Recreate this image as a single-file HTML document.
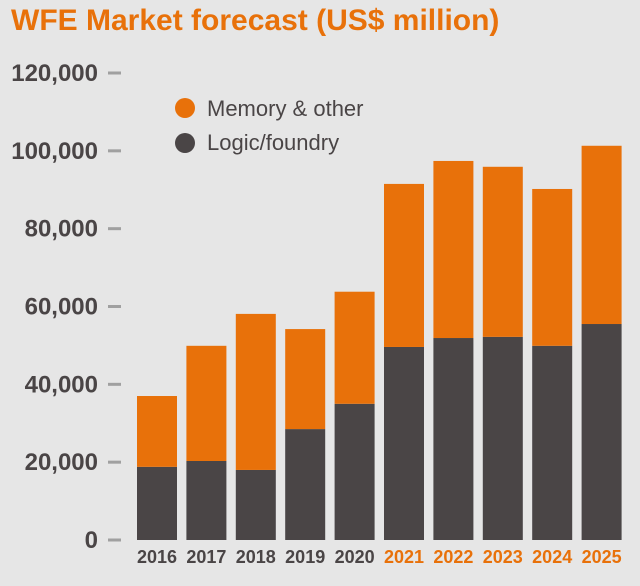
<!DOCTYPE html>
<html><head><meta charset="utf-8"><style>
body{margin:0;background:#e6e6e6;width:640px;height:581px;overflow:hidden;font-family:"Liberation Sans",Arial,sans-serif}
</style></head><body>
<svg width="640" height="581" xmlns="http://www.w3.org/2000/svg">
<rect width="640" height="581" fill="#e6e6e6"/>
<text x="11" y="30" font-size="30" font-weight="bold" fill="#e8710a">WFE Market forecast (US$ million)</text>
<g id="yaxis"></g><g id="bars"></g><g id="xaxis"></g>
<circle cx="185" cy="108" r="10" fill="#e8710a"/>
<text x="207" y="116" font-size="22" fill="#4a4546">Memory &amp; other</text>
<circle cx="185" cy="143" r="10" fill="#4a4546"/>
<text x="207" y="150" font-size="22" fill="#4a4546">Logic/foundry</text>
</svg>
<script>
const years=["2016","2017","2018","2019","2020","2021","2022","2023","2024","2025"];
const logic=[18800,20300,18000,28500,35000,49600,51900,52200,49900,55500];
const total=[37000,49900,58100,54200,63800,91500,97400,95900,90200,101300];
const yTicks=[0,20000,40000,60000,80000,100000,120000];
const forecastFrom=2021;
const NS="http://www.w3.org/2000/svg";
const y=v=>540-v*(540-73)/120000;
const x=i=>137+i*49.4;
const bw=40;
function mk(tag,attrs,parent,txt){const e=document.createElementNS(NS,tag);for(const k in attrs)e.setAttribute(k,attrs[k]);if(txt!=null)e.textContent=txt;document.getElementById(parent).appendChild(e);return e;}
yTicks.forEach(t=>{
 const l=mk('text',{x:98,y:y(t)+8,'font-size':24,'font-weight':'bold','text-anchor':'end',fill:'#4a4546'},'yaxis',t.toLocaleString('en-US'));
 
 
 const m=mk('rect',{x:108,y:y(t)-1.5,width:13,height:3,fill:'#a0a0a0'},'yaxis');
 
 
});
years.forEach((yr,i)=>{
 const a=mk('rect',{x:x(i),y:y(logic[i]),width:bw,height:540-y(logic[i]),fill:'#4a4546'},'bars');
 
 
 const b=mk('rect',{x:x(i),y:y(total[i]),width:bw,height:y(logic[i])-y(total[i]),fill:'#e8710a'},'bars');
 
 
 const t=mk('text',{x:x(i)+bw/2,y:563,'font-size':18,'font-weight':'bold','text-anchor':'middle',fill:(+yr>=forecastFrom?'#e8710a':'#4a4546')},'xaxis',yr);
 
 
});
</script>
</body></html>
